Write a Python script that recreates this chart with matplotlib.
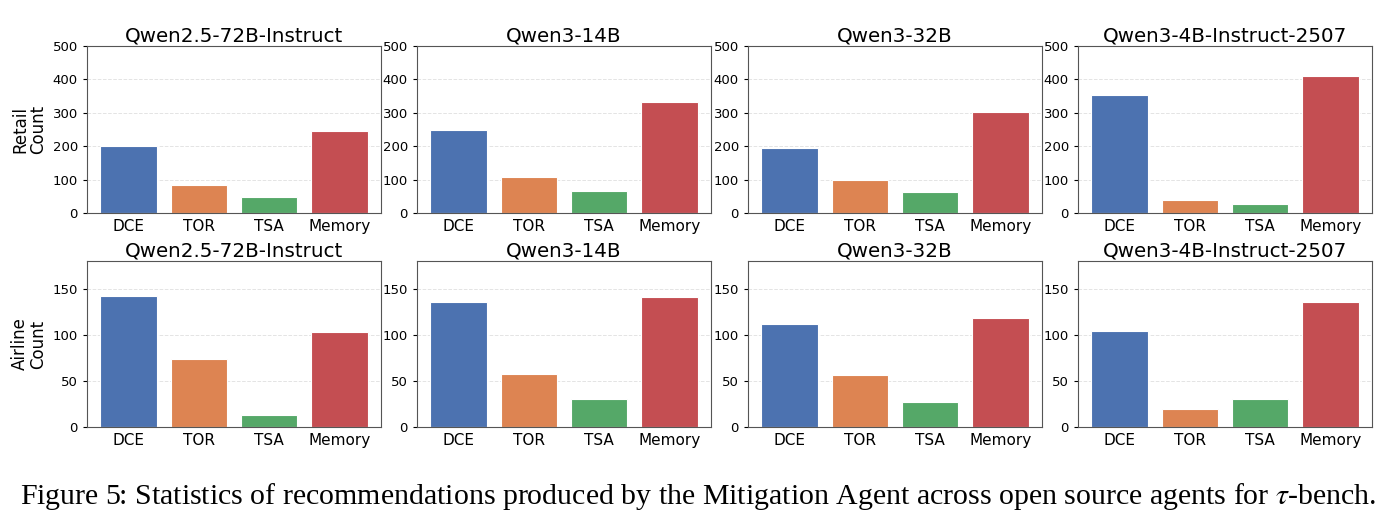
import matplotlib
matplotlib.use("Agg")
import matplotlib.pyplot as plt

plt.rcParams["font.family"] = "DejaVu Sans"
plt.rcParams["mathtext.fontset"] = "stix"

# categories and model names
categories = ["DCE", "TOR", "TSA", "Memory"]
models = ["Qwen2.5-72B-Instruct", "Qwen3-14B", "Qwen3-32B", "Qwen3-4B-Instruct-2507"]

# counts per model (DCE, TOR, TSA, Memory)
retail_qwen25_72b = [201, 83, 48, 245]
retail_qwen3_14b = [250, 107, 65, 331]
retail_qwen3_32b = [194, 99, 63, 302]
retail_qwen3_4b = [354, 39, 26, 410]

airline_qwen25_72b = [142, 74, 13, 103]
airline_qwen3_14b = [136, 57, 30, 141]
airline_qwen3_32b = [112, 56, 27, 118]
airline_qwen3_4b = [104, 20, 30, 136]

retail = [retail_qwen25_72b, retail_qwen3_14b, retail_qwen3_32b, retail_qwen3_4b]
airline = [airline_qwen25_72b, airline_qwen3_14b, airline_qwen3_32b, airline_qwen3_4b]

colors = ["#4C72B0", "#DD8452", "#55A868", "#C44E52"]
caption = ("Figure 5: Statistics of recommendations produced by the Mitigation Agent "
           "across open source agents for $\\tau$-bench.")

fig = plt.figure(figsize=(13.96, 5.31), dpi=100)

lefts = [87, 417, 748, 1078]
ax_w = 294
rows = [("Retail", retail, 500, [0, 100, 200, 300, 400, 500], 46, 213),
        ("Airline", airline, 180, [0, 50, 100, 150], 261, 427)]

W, H = 1396, 531
for name, data, ymax, yticks, top, bottom in rows:
    for i, model in enumerate(models):
        ax = fig.add_axes([lefts[i] / W, 1 - bottom / H, ax_w / W, (bottom - top) / H])
        ax.bar(categories, data[i], color=colors, edgecolor="white", linewidth=0.8)
        ax.set_ylim(0, ymax)
        ax.set_yticks(yticks)
        ax.set_title(model, fontsize=14.3, pad=3)
        ax.tick_params(axis="x", labelsize=11, length=0, pad=4)
        ax.tick_params(axis="y", labelsize=9.5, length=3)
        ax.grid(axis="y", linestyle="--", alpha=0.35, linewidth=0.7)
        ax.set_axisbelow(True)
        for sp in ax.spines.values():
            sp.set_color("#555555")
        if i == 0:
            ax.set_ylabel(name + "\nCount", fontsize=12, linespacing=1.0)

fig.text(0.5, 1 - 496 / H, caption, ha="center", va="center",
         fontsize=21.5, family="Liberation Serif")

fig.savefig("out.png", dpi=100)
